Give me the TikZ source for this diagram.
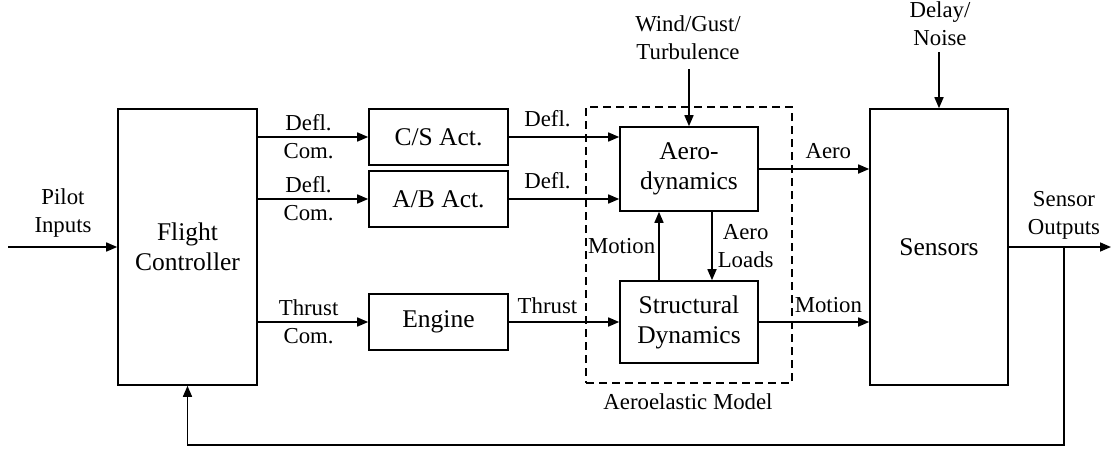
\documentclass[tikz,border=0pt]{standalone}
\usepackage{fontspec}
\setmainfont{Liberation Serif}
\usetikzlibrary{arrows.meta}
\newcommand{\bigfnt}{\fontsize{25.5}{30}\selectfont}
\newcommand{\smfnt}{\fontsize{22.8}{28}\selectfont}
\begin{document}
\begin{tikzpicture}[x=1pt,y=-1pt,
  box/.style={draw, line width=1.6pt, minimum width=139pt, minimum height=56pt, align=center, font=\bigfnt, inner sep=0pt},
  arr/.style={-{Triangle[length=11pt,width=9pt]}, line width=1.6pt},
  ln/.style={line width=1.6pt},
  lbl/.style={font=\smfnt, align=center, inner sep=0pt},
  aebox/.style={draw, line width=1.6pt, dash pattern=on 8pt off 5pt, minimum width=206pt, minimum height=276pt, inner sep=0pt}]
\useasboundingbox (0,0) rectangle (1112,448);
% boxes
\node[box, minimum height=276pt] (FC) at (187.5,247) {Flight\\Controller};
\node[box] (CS) at (438.5,137) {C/S Act.};
\node[box] (AB) at (438.5,199) {A/B Act.};
\node[box] (EN) at (438.5,322) {Engine};
\node[aebox] (ae) at (689,245) {};
\node[box, minimum width=138pt, minimum height=84pt] (Aero) at (689,169) {Aero-\\dynamics};
\node[box, minimum width=138pt, minimum height=82pt] (SD) at (689,322) {Structural\\Dynamics};
\node[box, minimum width=138pt, minimum height=276pt] (Sen) at (939,247) {Sensors};
% external labels
\node[lbl] (pilot) at (63,213) {Pilot\\Inputs};
\node[lbl] (wind) at (688,38) {Wind/Gust/\\Turbulence};
\node[lbl] (delay) at (940,24) {Delay/\\Noise};
\node[lbl] (sout) at (1064,215) {Sensor\\Outputs};
\node[lbl] (aelbl) at (688,402) {Aeroelastic Model};
\coordinate (pin) at (8,247);
\coordinate (out) at (1111,247);
\coordinate (br) at (1064,247);
\coordinate (fb) at (1064,445);
\coordinate (mx) at (659,0);
\coordinate (lx) at (712,0);
% connectors
\draw[arr] (pin) -- (FC.west);
\draw[arr] (FC.east |- CS.west) -- (CS.west) node[lbl, pos=0.46] {Defl.\\Com.};
\draw[arr] (FC.east |- AB.west) -- (AB.west) node[lbl, pos=0.46] {Defl.\\Com.};
\draw[arr] (FC.east |- EN.west) -- (EN.west) node[lbl, pos=0.46] {Thrust\\Com.};
\draw[arr] (CS.east) -- (CS.east -| Aero.west) node[lbl, pos=0.35, above=9pt] {Defl.};
\draw[arr] (AB.east) -- (AB.east -| Aero.west) node[lbl, pos=0.35, above=9pt] {Defl.};
\draw[arr] (EN.east) -- (SD.west) node[lbl, pos=0.35, above=7pt] {Thrust};
\draw[arr] (SD.north -| mx) -- (Aero.south -| mx) node[lbl, midway, left=3pt] {Motion};
\draw[arr] (Aero.south -| lx) -- (SD.north -| lx) node[lbl, midway, right=5pt] {Aero\\Loads};
\draw[arr, shorten <=9pt] (wind.south -| Aero.north) -- (Aero.north);
\draw[arr, shorten <=6pt] (delay.south -| Sen.north) -- (Sen.north);
\draw[arr] (Aero.east) -- (Aero.east -| Sen.west) node[lbl, pos=0.63, above=9pt] {Aero};
\draw[arr] (SD.east) -- (SD.east -| Sen.west) node[lbl, pos=0.63, above=8pt] {Motion};
\draw[arr] (Sen.east) -- (out);
\draw[arr] (br) -- (fb) -| (FC.south);
\end{tikzpicture}
\end{document}
